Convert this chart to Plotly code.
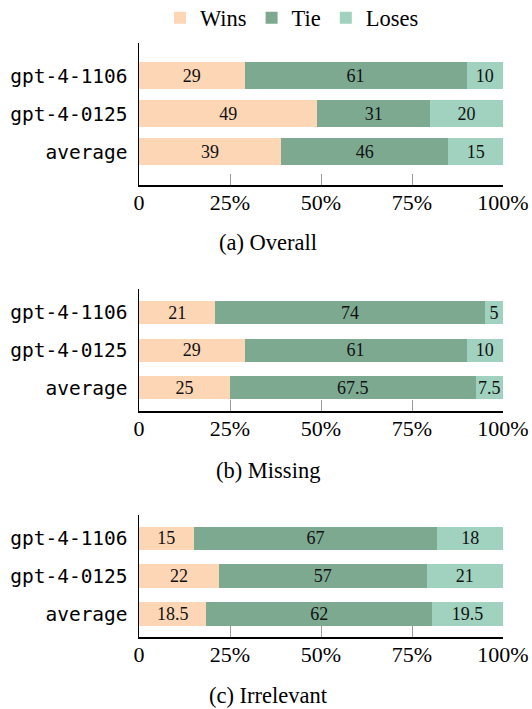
import plotly.graph_objects as go

categories = ["gpt-4-1106", "gpt-4-0125", "average"]
series_names = ["Wins", "Tie", "Loses"]

overall_wins = [29, 49, 39]
overall_tie = [61, 31, 46]
overall_loses = [10, 20, 15]

missing_wins = [21, 29, 25]
missing_tie = [74, 61, 67.5]
missing_loses = [5, 10, 7.5]

irrelevant_wins = [15, 22, 18.5]
irrelevant_tie = [67, 57, 62]
irrelevant_loses = [18, 21, 19.5]

x_tickvals = [0, 25, 50, 75, 100]
x_ticktext = ["0", "25%", "50%", "75%", "100%"]
captions = ["(a) Overall", "(b) Missing", "(c) Irrelevant"]

colors = {"Wins": "#FDD6B5", "Tie": "#7DA991", "Loses": "#A0D2BF"}

W, H = 532, 709
SERIF = "Liberation Serif"
MONO = "DejaVu Sans Mono"

panels = [
    (overall_wins, overall_tie, overall_loses),
    (missing_wins, missing_tie, missing_loses),
    (irrelevant_wins, irrelevant_tie, irrelevant_loses),
]
# pixel geometry: (axis top, axis bottom), bar width, y half-range, caption y
panel_px = [(42.7, 185.0), (289.3, 411.0), (515.0, 637.3)]
bar_widths = [0.71, 0.62, 0.62]
y_pad = [0.87, 0.62, 0.62]
caption_y = [242, 470, 695]

x_left, x_right = 139, 503

fig = go.Figure()
for i, (wins, tie, loses) in enumerate(panels):
    sfx = "" if i == 0 else str(i + 1)
    for name, vals in zip(series_names, (wins, tie, loses)):
        fig.add_trace(go.Bar(
            y=categories, x=vals, name=name, orientation="h",
            marker=dict(color=colors[name], line=dict(width=0)),
            width=bar_widths[i],
            text=[f"{v:g}" for v in vals],
            textposition="inside", insidetextanchor="middle", textangle=0,
            textfont=dict(family=SERIF, size=18, color="#111111"),
            xaxis="x" + sfx, yaxis="y" + sfx,
            legendgroup=name, showlegend=(i == 0),
            hoverinfo="skip",
        ))

layout_axes = {}
for i in range(3):
    sfx = "" if i == 0 else str(i + 1)
    top, bot = panel_px[i]
    layout_axes["xaxis" + sfx] = dict(
        domain=[x_left / W, x_right / W], range=[0, 100],
        tickvals=x_tickvals, ticktext=x_ticktext,
        ticks="inside", ticklen=11, tickcolor="#9a9a9a", tickwidth=1,
        showline=True, linecolor="#000000", linewidth=1.5,
        showgrid=False, zeroline=False, fixedrange=True,
        tickfont=dict(family=SERIF, size=22, color="#000000"),
        ticklabelstandoff=-3, automargin=False,
        anchor="y" + sfx,
    )
    layout_axes["yaxis" + sfx] = dict(
        domain=[1 - bot / H, 1 - top / H],
        type="category", categoryorder="array", categoryarray=categories,
        range=[2 + y_pad[i], -y_pad[i]],
        showline=True, linecolor="#000000", linewidth=1.5,
        ticks="", showgrid=False, zeroline=False, fixedrange=True,
        tickfont=dict(family=MONO, size=19.5, color="#000000"),
        ticklabelstandoff=6, automargin=False,
        anchor="x" + sfx,
    )

annotations = [
    dict(text=c, x=268 / W, y=1 - cy / H, xref="paper", yref="paper",
         xanchor="center", yanchor="middle", showarrow=False,
         font=dict(family=SERIF, size=22.5, color="#000000"))
    for c, cy in zip(captions, caption_y)
]

fig.update_layout(
    width=W, height=H,
    margin=dict(l=0, r=0, t=0, b=0, autoexpand=False),
    paper_bgcolor="white", plot_bgcolor="white",
    barmode="stack", bargap=0,
    uniformtext=dict(minsize=18, mode="show"),
    showlegend=True,
    legend=dict(orientation="h", xref="container", yref="container",
                x=292 / W, xanchor="center",
                y=1 - 18 / H, yanchor="middle",
                font=dict(family=SERIF, size=22.5, color="#000000"),
                itemwidth=30, traceorder="normal",
                bgcolor="rgba(0,0,0,0)"),
    annotations=annotations,
    **layout_axes,
)

fig.write_html(
    "out.html",
    config={"displayModeBar": False, "staticPlot": True},
    post_script="document.body.style.margin='0';document.body.style.overflow='hidden';",
)
